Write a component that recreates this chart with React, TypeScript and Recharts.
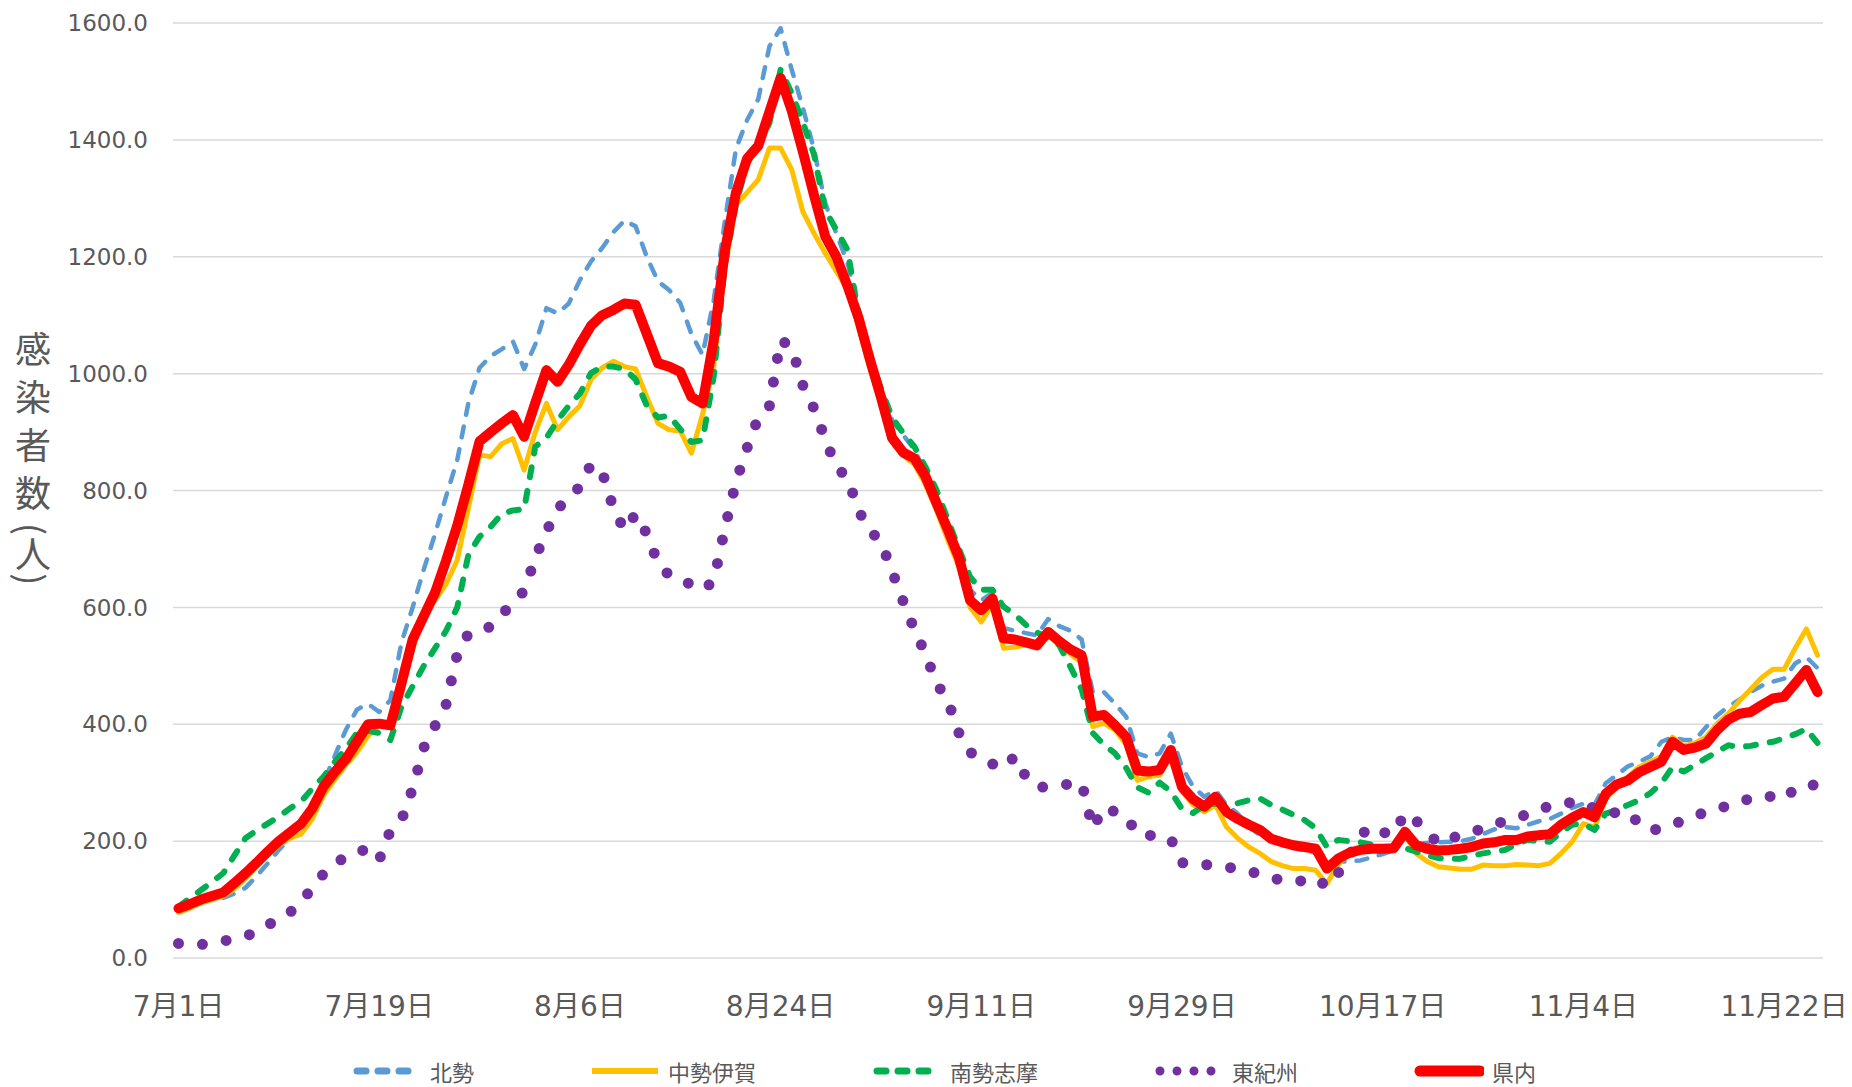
import { LineChart, Line, XAxis, YAxis, CartesianGrid, Legend } from 'recharts';

// 7/1 - 11/25, daily
const months = [7, 8, 9, 10, 11];
const monthDays = [31, 31, 30, 31, 25];
const dates: string[] = months.flatMap((m, k) =>
  Array.from({ length: monthDays[k] }, (_, d) => `${m}月${d + 1}日`)
);

const yTicks = [0, 200, 400, 600, 800, 1000, 1200, 1400, 1600];

// 北勢
const hokusei = [
  85, 90, 95, 100, 103, 110, 120, 140, 162, 185, 205, 228, 262, 300, 345, 390, 425, 435, 421, 441,
  540, 600, 665, 725, 790, 852, 950, 1010, 1030, 1042, 1055, 1008, 1050, 1112, 1103, 1120, 1160, 1192, 1215, 1242,
  1262, 1252, 1200, 1158, 1143, 1121, 1068, 1032, 1125, 1260, 1385, 1434, 1470, 1560, 1591, 1520, 1455, 1383, 1292, 1240,
  1190, 1110, 1040, 975, 920, 895, 870, 830, 780, 722, 682, 630, 612, 625, 565, 560, 556, 552, 580, 568,
  560, 545, 455, 455, 435, 413, 350, 344, 350, 384, 327, 293, 276, 287, 262, 247, 225, 210, 203, 195,
  188, 184, 180, 172, 165, 165, 167, 172, 178, 184, 205, 195, 197, 198, 199, 200, 204, 212, 220, 224,
  222, 228, 234, 238, 247, 257, 264, 262, 299, 313, 328, 336, 345, 370, 378, 373, 373, 395, 415, 430,
  442, 455, 466, 473, 478, 504, 515, 496,
];

// 中勢伊賀
const chuseiIga = [
  78, 85, 94, 100, 106, 118, 136, 156, 176, 193, 205, 212, 238, 278, 305, 330, 352, 380, 400, 395,
  455, 530, 590, 612, 640, 681, 770, 861, 858, 880, 889, 835, 900, 949, 904, 926, 945, 990, 1010, 1021,
  1012, 1008, 960, 915, 904, 902, 864, 930, 1012, 1180, 1290, 1310, 1332, 1386, 1386, 1349, 1277, 1240, 1206, 1175,
  1145, 1080, 1010, 950, 890, 860, 845, 810, 765, 715, 670, 600, 575, 605, 530, 532, 536, 540, 553, 535,
  520, 505, 396, 402, 390, 365, 304, 310, 313, 345, 285, 262, 250, 262, 224, 205, 190, 179, 165, 158,
  153, 153, 150, 127, 160, 180, 185, 188, 190, 190, 210, 179, 165, 156, 154, 152, 152, 159, 158, 158,
  160, 159, 158, 162, 179, 199, 230, 224, 272, 295, 310, 327, 336, 345, 378, 363, 368, 378, 401, 418,
  440, 460, 480, 494, 494, 530, 563, 518,
];

// 南勢志摩
const nanseiShima = [
  88, 102, 116, 130, 145, 175, 205, 218, 230, 242, 256, 268, 290, 310, 335, 358, 385, 389, 385, 373,
  430, 465, 500, 530, 560, 600, 690, 721, 738, 760, 766, 768, 875, 890, 920, 945, 966, 1001, 1012, 1012,
  1008, 990, 945, 925, 928, 905, 883, 886, 995, 1185, 1290, 1360, 1389, 1429, 1520, 1480, 1430, 1375, 1280, 1246,
  1212, 1100, 1030, 975, 925, 898, 875, 840, 800, 750, 700, 652, 630, 630, 601, 588, 570, 557, 548, 535,
  498, 460, 385, 365, 350, 325, 292, 283, 300, 285, 255, 248, 262, 264, 262, 265, 270, 273, 262, 254,
  245, 236, 222, 190, 202, 200, 198, 194, 190, 190, 188, 182, 176, 171, 170, 170, 175, 179, 182, 185,
  195, 202, 200, 199, 215, 228, 230, 219, 247, 253, 262, 270, 282, 299, 327, 319, 330, 342, 353, 364,
  361, 363, 367, 370, 376, 383, 392, 368,
];

// 東紀州
const higashiKishu = [
  25, 24, 23, 26, 29, 33, 37, 45, 56, 68, 78, 96, 120, 144, 160, 174, 182, 186, 168, 218,
  236, 290, 360, 397, 434, 520, 555, 561, 567, 588, 608, 628, 685, 730, 768, 790, 806, 845, 832, 770,
  732, 760, 726, 676, 655, 645, 640, 630, 645, 735, 815, 873, 925, 945, 1058, 1045, 980, 940, 888, 840,
  822, 765, 732, 712, 662, 610, 562, 520, 470, 440, 385, 352, 342, 332, 325, 345, 310, 292, 293, 295,
  298, 300, 222, 258, 250, 242, 212, 210, 208, 204, 163, 162, 160, 158, 156, 152, 149, 143, 137, 133,
  130, 133, 137, 122, 145, 175, 210, 225, 215, 212, 248, 235, 215, 196, 204, 210, 215, 222, 228, 235,
  240, 246, 254, 260, 265, 266, 266, 255, 247, 249, 250, 230, 218, 222, 228, 236, 243, 250, 255, 261,
  267, 273, 278, 276, 272, 290, 296, 296,
];

// 県内
const kennai = [
  85, 92, 100, 106, 112, 128, 145, 163, 182, 200, 215, 230, 256, 293, 318, 340, 370, 400, 401, 398,
  470, 545, 585, 625, 680, 740, 810, 884, 900, 915, 929, 892, 950, 1006, 986, 1015, 1050, 1082, 1100, 1109,
  1120, 1118, 1068, 1018, 1012, 1003, 960, 949, 1057, 1210, 1310, 1368, 1390, 1448, 1506, 1450, 1380, 1305, 1235, 1200,
  1150, 1095, 1025, 960, 890, 865, 855, 824, 778, 733, 685, 612, 595, 615, 547, 545, 540, 535, 558, 542,
  528, 518, 413, 416, 398, 378, 321, 319, 322, 356, 293, 272, 259, 276, 250, 238, 228, 219, 204, 198,
  193, 190, 187, 153, 170, 180, 185, 187, 187, 188, 216, 193, 187, 184, 185, 187, 190, 196, 198, 202,
  202, 208, 210, 212, 228, 240, 250, 241, 281, 297, 304, 318, 327, 336, 370, 356, 360, 367, 390, 408,
  418, 421, 433, 444, 447, 470, 493, 455,
];

const data = dates.map((date, i) => ({
  date,
  hokusei: hokusei[i],
  chuseiIga: chuseiIga[i],
  nanseiShima: nanseiShima[i],
  higashiKishu: higashiKishu[i],
  kennai: kennai[i],
}));

const TEXT = '#595959';
const LATIN = '"DejaVu Sans", "Noto Sans CJK JP", sans-serif';
const CJK = '"Noto Sans CJK JP", "DejaVu Sans", sans-serif';

const series = [
  { key: 'hokusei', name: '北勢', color: '#5B9BD5', width: 4.5, dash: '11 12', kind: 'dash' },
  { key: 'chuseiIga', name: '中勢伊賀', color: '#FFC000', width: 5, dash: undefined, kind: 'solid' },
  { key: 'nanseiShima', name: '南勢志摩', color: '#00B050', width: 6, dash: '10 14', kind: 'dash' },
  { key: 'higashiKishu', name: '東紀州', color: '#7030A0', width: 11, dash: '0 24', kind: 'dot' },
  { key: 'kennai', name: '県内', color: '#FF0000', width: 10, dash: undefined, kind: 'thick' },
];

function XTick({ x, y, payload }: { x?: number; y?: number; payload?: { value: string } }) {
  return (
    <text
      x={x}
      y={(y ?? 0) + 48}
      textAnchor="middle"
      dominantBaseline="central"
      fill={TEXT}
      fontSize={28}
      fontFamily={LATIN}
    >
      {payload?.value}
    </text>
  );
}

function LegendIcon({ kind, color }: { kind: string; color: string }) {
  let line;
  if (kind === 'dash') {
    line = <line x1={5} y1={8} x2={62} y2={8} stroke={color} strokeWidth={7} strokeLinecap="round" strokeDasharray="9 12" />;
  } else if (kind === 'dot') {
    line = <line x1={6} y1={8} x2={62} y2={8} stroke={color} strokeWidth={9} strokeLinecap="round" strokeDasharray="0 17" />;
  } else if (kind === 'thick') {
    line = <line x1={6} y1={8} x2={66} y2={8} stroke={color} strokeWidth={11} strokeLinecap="round" />;
  } else {
    line = <line x1={2} y1={8} x2={68} y2={8} stroke={color} strokeWidth={6} />;
  }
  return (
    <svg width={70} height={16} style={{ display: 'block' }}>
      {line}
    </svg>
  );
}

function ChartLegend() {
  return (
    <div
      style={{
        height: 40,
        display: 'flex',
        justifyContent: 'center',
        alignItems: 'center',
        gap: 116,
        paddingLeft: 36,
        paddingTop: 8,
        boxSizing: 'border-box',
      }}
    >
      {series.map((s) => (
        <div key={s.key} style={{ display: 'flex', alignItems: 'center', gap: 8 }}>
          <LegendIcon kind={s.kind} color={s.color} />
          <span style={{ fontFamily: CJK, fontSize: 22, color: TEXT, lineHeight: '24px' }}>{s.name}</span>
        </div>
      ))}
    </div>
  );
}

export default function App() {
  return (
    <div style={{ position: 'absolute', left: 0, top: 0, width: 1852, height: 1087, background: '#fff' }}>
      <LineChart
        width={1852}
        height={1087}
        data={data}
        margin={{ top: 23, right: 29, left: 0, bottom: 0 }}
      >
        <CartesianGrid vertical={false} stroke="#D9D9D9" strokeWidth={1.5} />
        <XAxis
          dataKey="date"
          interval={17}
          axisLine={false}
          tickLine={false}
          tickSize={0}
          tickMargin={0}
          height={89}
          padding={{ left: 5.5, right: 5.5 }}
          tick={<XTick />}
        />
        <YAxis
          domain={[0, 1600]}
          ticks={yTicks}
          width={173}
          axisLine={false}
          tickLine={false}
          tickSize={0}
          tickMargin={25}
          tickFormatter={(v: number) => v.toFixed(1)}
          tick={{ fill: TEXT, fontSize: 23, fontFamily: LATIN }}
        />
        <Legend
          verticalAlign="bottom"
          height={40}
          wrapperStyle={{ left: 0, width: 1852 }}
          content={() => <ChartLegend />}
        />
        {series.map((s) => (
          <Line
            key={s.key}
            type="linear"
            dataKey={s.key}
            name={s.name}
            stroke={s.color}
            strokeWidth={s.width}
            strokeDasharray={s.dash}
            strokeLinecap="round"
            strokeLinejoin="round"
            dot={false}
            activeDot={false}
            isAnimationActive={false}
          />
        ))}
      </LineChart>
      <div
        style={{
          position: 'absolute',
          left: 13,
          top: 331,
          width: 40,
          writingMode: 'vertical-rl',
          fontFamily: CJK,
          fontSize: 36,
          lineHeight: '40px',
          color: TEXT,
          letterSpacing: 12,
        }}
      >
        感染者数<span style={{ letterSpacing: 1 }}>(人)</span>
      </div>
    </div>
  );
}
